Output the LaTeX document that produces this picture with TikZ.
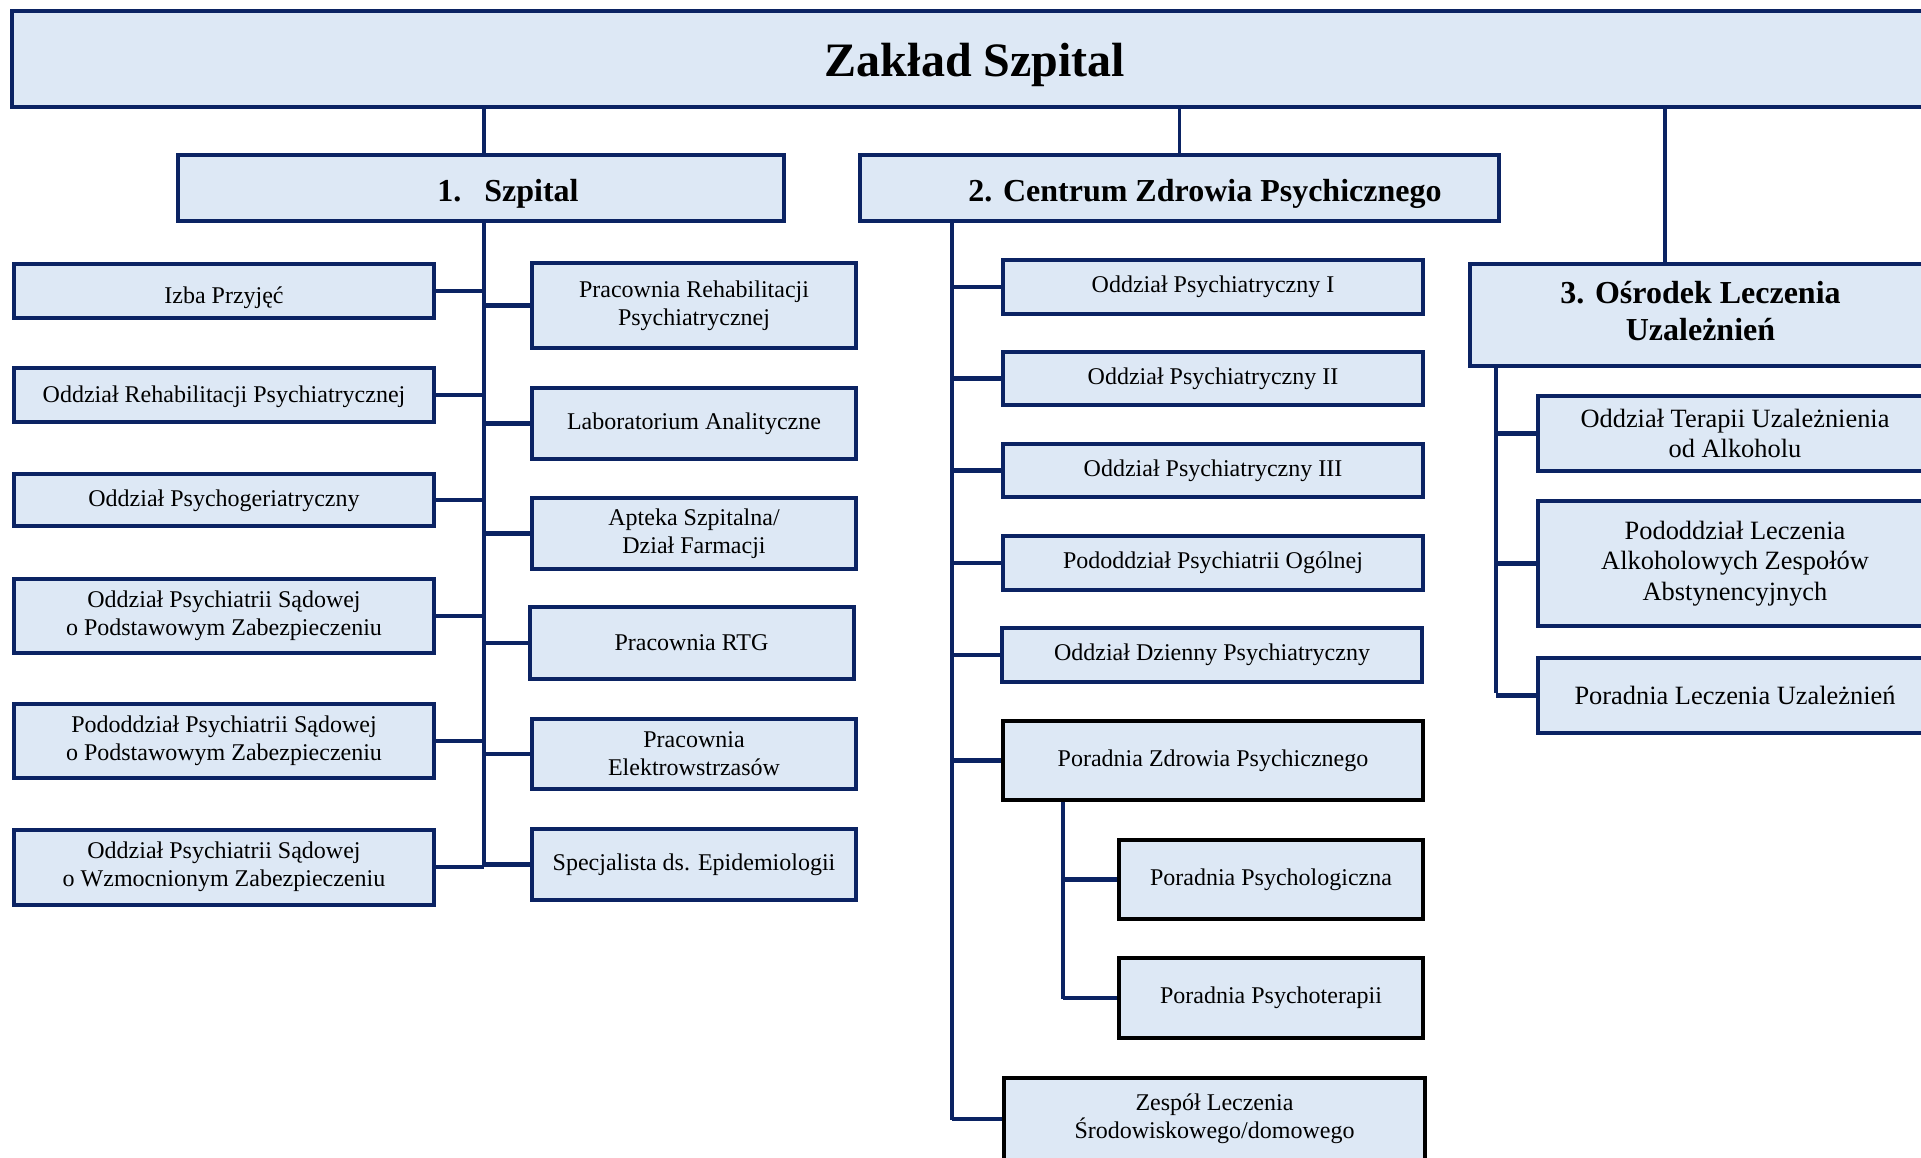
\documentclass[tikz,border=0pt]{standalone}
\usepackage{fontspec}
\setmainfont{Liberation Serif}
\definecolor{navy}{HTML}{0B2363}
\definecolor{boxfill}{HTML}{DDE8F5}
\begin{document}
\begin{tikzpicture}[x=0.5pt,y=-0.5pt,
  box/.style={draw=navy, fill=boxfill, line width=2pt, inner sep=2pt, align=center,
    font=\fontsize{12}{14}\selectfont},
  blackbox/.style={box, draw=black},
  obox/.style={box, font=\fontsize{13.2}{15.2}\selectfont},
  head/.style={box, font=\fontsize{16}{18.4}\selectfont\bfseries},
  lefts/.style={box, minimum width=210pt},
  rights/.style={box, minimum width=162pt},
  cents/.style={box, minimum width=210pt},
  lnk/.style={draw=navy, line width=1.6pt},
  stub/.style={draw=navy, line width=2.2pt}]
\useasboundingbox (0,0) rectangle (1921,1157);
\clip (0,0) rectangle (1921,1157);

% top
\node[box, minimum width=963pt, minimum height=48pt, text height=17.7pt, text depth=0pt,
  font=\fontsize{24}{28}\selectfont\bfseries] (top) at (975,59) {Zakład Szpital};

% headers
\node[head, minimum width=303pt, minimum height=33pt] (szp) at (481,188) {};
\node[anchor=west, inner sep=0pt, font=\fontsize{16}{18.4}\selectfont\bfseries] (szpt) at (437,194) {1.\hspace{11.5pt}Szpital};
\node[head, minimum width=319.5pt, minimum height=33pt] (cen) at (1179.5,188) {};
\node[anchor=west, inner sep=0pt, font=\fontsize{16}{18.4}\selectfont\bfseries] (cent) at (968,194) {2. Centrum Zdrowia Psychicznego};
\node[head, minimum width=230.5pt, minimum height=51pt] (osr) at (1700.5,315) {};
\node[inner sep=0pt, align=center, font=\fontsize{16}{18.4}\selectfont\bfseries] (osrt) at (1700.5,311) {3. Ośrodek Leczenia\\Uzależnień};

% Szpital left column
\node[lefts, minimum height=27pt, text height=12pt, text depth=0pt] (l1) at (224,291) {Izba Przyjęć};
\node[lefts, minimum height=27pt, text height=7.8pt, text depth=0pt] (l2) at (224,395) {Oddział Rehabilitacji Psychiatrycznej};
\node[lefts, minimum height=26pt, text height=6pt, text depth=0pt] (l3) at (224,500) {Oddział Psychogeriatryczny};
\node[lefts, minimum height=37pt] (l4) at (224,616) {Oddział Psychiatrii Sądowej\\o Podstawowym Zabezpieczeniu};
\node[lefts, minimum height=37pt] (l5) at (224,741) {Pododdział Psychiatrii Sądowej\\o Podstawowym Zabezpieczeniu};
\node[lefts, minimum height=37.5pt] (l6) at (224,867) {Oddział Psychiatrii Sądowej\\o Wzmocnionym Zabezpieczeniu};

% Szpital right column
\node[rights, minimum height=42.5pt] (r1) at (694,305.5) {Pracownia Rehabilitacji\\Psychiatrycznej};
\node[rights, minimum height=35.5pt] (r2) at (694,423.5) {Laboratorium Analityczne};
\node[rights, minimum height=35.5pt] (r3) at (694,533.5) {Apteka Szpitalna/\\Dział Farmacji};
\node[rights, minimum height=36pt] (r4) at (691.5,643) {Pracownia RTG};
\node[rights, minimum height=35pt] (r5) at (694,754) {Pracownia\\Elektrowstrzasów};
\node[rights, minimum height=35.5pt] (r6) at (694,864.5) {Specjalista ds. Epidemiologii};

% Centrum column
\node[cents, minimum height=27pt] (c1) at (1213,287) {Oddział Psychiatryczny I};
\node[cents, minimum height=26.5pt] (c2) at (1213,378.5) {Oddział Psychiatryczny II};
\node[cents, minimum height=26.5pt] (c3) at (1213,470.5) {Oddział Psychiatryczny III};
\node[cents, minimum height=27pt] (c4) at (1213,563) {Pododdział Psychiatrii Ogólnej};
\node[cents, minimum height=27pt] (c5) at (1212,655) {Oddział Dzienny Psychiatryczny};
\node[blackbox, minimum width=210pt, minimum height=39.5pt] (c6) at (1213,760.5) {Poradnia Zdrowia Psychicznego};
\node[blackbox, minimum width=152pt, minimum height=39.5pt] (c7) at (1271,879.5) {Poradnia Psychologiczna};
\node[blackbox, minimum width=152pt, minimum height=40pt] (c8) at (1271,998) {Poradnia Psychoterapii};
\node[blackbox, minimum width=210.5pt, minimum height=41pt] (c9) at (1214.5,1119) {Zespół Leczenia\\Środowiskowego/domowego};

% Osrodek column
\node[obox, minimum width=197pt, minimum height=37.5pt] (o1) at (1735,433.5) {Oddział Terapii Uzależnienia\\od Alkoholu};
\node[obox, minimum width=197pt, minimum height=62.5pt] (o2) at (1735,563.5) {Pododdział Leczenia\\Alkoholowych Zespołów\\Abstynencyjnych};
\node[obox, minimum width=197pt, minimum height=37.5pt] (o3) at (1735,695.5) {Poradnia Leczenia Uzależnień};

% spine coordinates
\coordinate (sx) at (484,865);
\coordinate (cx) at (952,1120);
\coordinate (px) at (1063,999);
\coordinate (ox) at (1496,693);
\coordinate (ot) at (1665,0);

% top connectors
\draw[lnk] (szp.north -| sx) -- (top.south -| sx);
\draw[lnk] (cen.north) -- (top.south -| cen.north);
\draw[lnk] (osr.north -| ot) -- (top.south -| ot);

% Szpital spine
\draw[lnk] (szp.south -| sx) -- (sx);
\foreach \n in {l1,l2,l3,l4,l5,l6} \draw[stub] (\n.east) -- (\n.east -| sx);
\foreach \n in {r1,r2,r3,r4,r5,r6} \draw[stub] (\n.west) -- (\n.west -| sx);

% Centrum spine
\draw[lnk] (cen.south -| cx) -- (cx);
\foreach \n in {c1,c2,c3,c4,c5,c6,c9} \draw[stub] (\n.west) -- (\n.west -| cx);
\draw[lnk] (c6.south -| px) -- (px);
\foreach \n in {c7,c8} \draw[stub] (\n.west) -- (\n.west -| px);

% Osrodek spine
\draw[lnk] (osr.south -| ox) -- (ox);
\foreach \n in {o1,o2,o3} \draw[stub] (\n.west) -- (\n.west -| ox);
\end{tikzpicture}
\end{document}
